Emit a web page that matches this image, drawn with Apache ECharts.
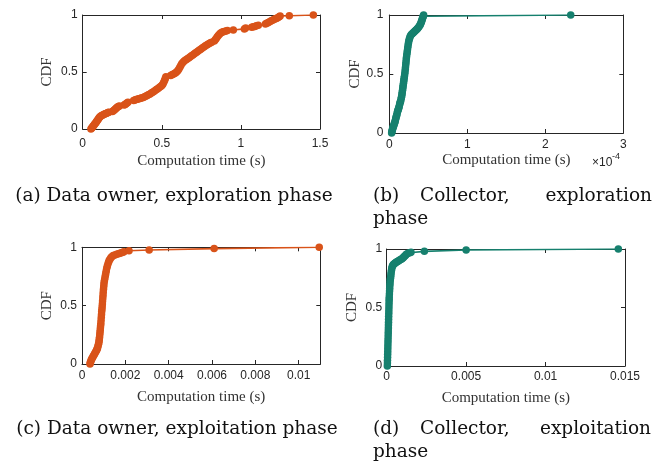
<!DOCTYPE html>
<html><head><meta charset="utf-8">
<script src="https://cdn.jsdelivr.net/npm/echarts@6/dist/echarts.min.js"></script>
<style>html,body{margin:0;padding:0;background:#fff}#c{width:654px;height:466px}</style>
</head><body><div id="c"></div>
<script>
// Panel (a): Data owner, exploration phase — time (s), CDF
var timeA = [0.052,0.056,0.06,0.064,0.068,0.072,0.076,0.08,0.084,0.088,0.092,0.096,0.10,0.104,0.108,0.113,0.118,0.124,0.13,0.136,0.142,0.148,0.155,0.16,0.165,
  0.188,0.194,0.20,0.205,0.21,0.215,0.22,0.226,0.232,
  0.262,0.268,0.274,0.28,0.286,
  0.322,0.33,0.338,0.346,0.354,0.362,0.37,0.378,0.386,0.394,0.402,0.41,0.418,0.426,0.434,0.442,0.45,0.458,0.466,0.474,0.482,0.49,0.497,0.503,0.508,0.513,0.518,0.522,0.526,
  0.556,0.564,0.572,0.58,0.588,0.595,0.602,0.608,0.614,0.62,0.626,0.633,0.64,0.648,0.656,0.664,0.672,0.68,0.688,0.696,0.704,0.712,0.72,0.728,0.736,0.744,0.752,0.76,0.768,0.776,0.784,0.792,0.8,0.808,0.815,
  0.832,0.838,0.844,0.85,0.856,0.863,0.87,0.878,0.886,0.895,0.905,0.915,0.952,1.022,1.03,1.068,1.078,1.088,1.098,1.11,
  1.155,1.163,1.171,1.179,1.187,1.195,1.203,1.211,1.219,1.227,1.235,1.242,1.248,1.306,1.458];
var cdfA = [0,0.007,0.014,0.021,0.028,0.035,0.043,0.05,0.058,0.066,0.074,0.082,0.09,0.098,0.105,0.111,0.116,0.121,0.125,0.129,0.133,0.137,0.141,0.144,0.147,
  0.153,0.16,0.167,0.174,0.18,0.186,0.192,0.197,0.202,
  0.21,0.216,0.222,0.228,0.234,
  0.25,0.254,0.258,0.262,0.265,0.268,0.271,0.274,0.278,0.284,0.29,0.296,0.302,0.308,0.315,0.322,0.33,0.338,0.346,0.354,0.362,0.37,0.378,0.386,0.398,0.412,0.428,0.444,0.458,
  0.47,0.475,0.481,0.487,0.494,0.503,0.514,0.527,0.542,0.558,0.572,0.584,0.594,0.602,0.61,0.618,0.626,0.634,0.642,0.65,0.658,0.666,0.674,0.682,0.69,0.698,0.706,0.714,0.722,0.73,0.737,0.744,0.751,0.757,0.762,
  0.772,0.782,0.794,0.806,0.818,0.83,0.84,0.847,0.852,0.856,0.86,0.864,0.868,0.878,0.885,0.892,0.896,0.9,0.905,0.91,
  0.922,0.928,0.933,0.939,0.945,0.951,0.957,0.962,0.967,0.972,0.978,0.985,0.991,0.994,1.0];

// Panel (b): Collector, exploration phase — time in units of 1e-4 s
var timeB = [0.03,0.033,0.036,0.04,0.045,0.05,0.055,0.06,0.065,0.07,0.075,0.08,0.085,0.09,0.095,0.1,0.105,0.11,0.115,0.12,0.125,0.13,0.135,0.14,0.145,0.15,0.155,0.16,0.163,0.166,0.169,0.172,0.175,0.178,0.181,0.184,0.187,0.19,
  0.194,0.198,0.202,0.205,0.208,0.211,0.214,0.217,0.22,0.224,0.228,0.232,0.236,0.24,0.245,0.25,0.256,0.263,0.27,0.28,0.29,0.3,0.31,0.32,0.33,0.34,0.35,0.36,0.37,0.38,0.39,0.398,0.405,0.41,0.415,0.42,0.425,0.43,0.435,0.44,2.326];
var cdfB = [0,0.01,0.02,0.03,0.04,0.05,0.06,0.07,0.08,0.09,0.1,0.115,0.13,0.14,0.15,0.165,0.18,0.19,0.2,0.21,0.22,0.235,0.25,0.26,0.27,0.285,0.3,0.315,0.33,0.345,0.36,0.375,0.39,0.405,0.42,0.435,0.45,0.465,
  0.48,0.5,0.52,0.54,0.56,0.58,0.6,0.62,0.64,0.66,0.68,0.7,0.72,0.74,0.76,0.78,0.795,0.81,0.822,0.832,0.84,0.846,0.852,0.858,0.864,0.87,0.877,0.884,0.892,0.9,0.91,0.92,0.93,0.94,0.95,0.96,0.97,0.98,0.99,1.0,1.0];

// Panel (c): Data owner, exploitation phase — time (s)
var timeC = [0.00037,0.00038,0.0004,0.00042,0.00044,0.00047,0.0005,0.00053,0.00056,0.00059,0.00062,0.00065,0.00068,0.0007,0.00072,0.00074,0.00076,0.00078,0.00079,0.0008,0.00081,0.00082,0.00083,0.00084,0.00085,0.00086,0.00087,0.00088,0.00089,
  0.0009,0.00091,0.00092,0.00093,0.00094,0.00095,0.00096,0.00097,0.00098,0.00099,0.001,0.00101,0.00102,0.00104,0.00106,0.00108,0.0011,0.00112,0.00114,0.00117,0.0012,0.00123,0.00126,0.0013,0.00134,0.00139,0.00144,
  0.00152,0.0016,0.00168,0.00175,0.00182,0.00188,0.00194,0.00217,0.0031,0.0061,0.01095];
var cdfC = [0,0.01,0.02,0.03,0.04,0.05,0.06,0.07,0.08,0.09,0.1,0.11,0.12,0.13,0.14,0.155,0.17,0.185,0.2,0.215,0.23,0.25,0.27,0.29,0.31,0.33,0.35,0.375,0.4,
  0.425,0.45,0.47,0.49,0.515,0.54,0.565,0.59,0.615,0.64,0.66,0.68,0.7,0.72,0.74,0.76,0.78,0.8,0.82,0.84,0.86,0.875,0.89,0.9,0.912,0.922,0.93,
  0.935,0.94,0.944,0.949,0.953,0.957,0.962,0.971,0.977,0.989,1.0];

// Panel (d): Collector, exploitation phase — time (s)
var timeD = [0.00004,0.000045,0.00005,0.000055,0.00006,0.000065,0.00007,0.000075,0.00008,0.000085,0.00009,0.000095,0.0001,0.000105,0.00011,0.000115,0.00012,0.000125,0.00013,0.000135,0.00014,0.000145,0.00015,0.000155,0.00016,
  0.00017,0.00018,0.00019,0.0002,0.00021,0.00022,0.000235,0.00025,0.000265,0.00028,0.0003,0.00032,0.00035,0.00038,0.00042,0.00046,0.0005,0.00055,0.0006,0.00065,0.0007,0.00076,0.00082,0.00088,0.00094,0.001,0.00105,
  0.0011,0.00116,0.00121,0.00126,0.00135,0.00145,0.00153,0.00237,0.005,0.01458];
var cdfD = [0,0.025,0.05,0.075,0.1,0.125,0.15,0.175,0.2,0.225,0.25,0.275,0.3,0.325,0.35,0.375,0.4,0.425,0.45,0.475,0.5,0.525,0.55,0.57,0.59,
  0.615,0.64,0.665,0.69,0.71,0.73,0.745,0.76,0.78,0.8,0.818,0.835,0.85,0.86,0.867,0.872,0.877,0.883,0.887,0.891,0.895,0.9,0.905,0.91,0.915,0.92,0.927,
  0.935,0.942,0.95,0.957,0.963,0.968,0.972,0.98,0.991,1.0];

var yTicks = [0, 0.5, 1];
var captions = {
  a: '(a) Data owner, exploration phase',
  c: '(c) Data owner, exploitation phase',
  b: ['(b)', 'Collector,', 'exploration', 'phase'],
  d: ['(d)', 'Collector,', 'exploitation', 'phase']
};
var xLabel = 'Computation time (s)', yLabel = 'CDF';

var ORANGE = '#D95319', TEAL = '#16806E', AX = '#262626';
var panels = [
  {t: timeA, c: cdfA, color: ORANGE, grid: {left: 82.7, top: 15, width: 237.3, height: 114}, xmin: 0, xmax: 1.5, xint: 0.5, xm: 8.5, ym: 5, xgap: 25, ygap: 28},
  {t: timeB, c: cdfB, color: TEAL, grid: {left: 389.3, top: 15, width: 234, height: 118}, xmin: 0, xmax: 3, xint: 1, xm: 6, ym: 6, xgap: 19.5, ygap: 26},
  {t: timeC, c: cdfC, color: ORANGE, grid: {left: 82, top: 247.3, width: 238.3, height: 116.7}, xmin: 0, xmax: 0.011, xint: 0.002, xm: 6, ym: 5, xgap: 25.5, ygap: 27.5, hideMax: true},
  {t: timeD, c: cdfD, color: TEAL, grid: {left: 386.7, top: 249, width: 238.3, height: 117}, xmin: 0, xmax: 0.015, xint: 0.005, xm: 5, ym: 4.5, xgap: 25, ygap: 27}
];

var grids = [], xAxes = [], yAxes = [], series = [];
var tickFont = {fontFamily: 'Liberation Sans', fontSize: 12, color: AX};
var nameFont = {fontFamily: 'Liberation Serif', fontSize: 15, color: '#333'};
panels.forEach(function (p, i) {
  grids.push(p.grid);
  var common = {type: 'value', gridIndex: i, min: p.xmin, max: p.xmax, interval: p.xint,
    splitLine: {show: false}, axisLine: {show: true, onZero: false, lineStyle: {color: AX, width: 1}},
    axisTick: {show: true, inside: true, length: 4, lineStyle: {color: AX}}};
  xAxes.push(Object.assign({}, common, {position: 'bottom', name: xLabel, nameLocation: 'middle', nameGap: p.xgap,
    nameTextStyle: nameFont,
    axisLabel: Object.assign({margin: p.xm, showMaxLabel: p.hideMax ? false : null}, tickFont)}));
  xAxes.push(Object.assign({}, common, {position: 'top', axisLabel: {show: false}}));
  var ycommon = {type: 'value', gridIndex: i, min: 0, max: 1, interval: 0.5,
    splitLine: {show: false}, axisLine: {show: true, onZero: false, lineStyle: {color: AX, width: 1}},
    axisTick: {show: true, inside: true, length: 4, lineStyle: {color: AX}}};
  yAxes.push(Object.assign({}, ycommon, {position: 'left', name: yLabel, nameLocation: 'middle', nameGap: p.ygap,
    nameTextStyle: nameFont, axisLabel: Object.assign({margin: p.ym}, tickFont)}));
  yAxes.push(Object.assign({}, ycommon, {position: 'right', axisLabel: {show: false}}));
  series.push({type: 'line', xAxisIndex: 2 * i, yAxisIndex: 2 * i,
    data: p.t.map(function (v, k) { return [v, p.c[k]]; }),
    symbol: 'circle', symbolSize: 7.5, showAllSymbol: true,
    lineStyle: {color: p.color, width: 1.6}, itemStyle: {color: p.color}});
});

var capFont = {fontFamily: 'DejaVu Serif', fontSize: 18.5, fill: '#111'};
function cap(text, x, y, align) {
  return {type: 'text', x: x, y: y, style: Object.assign({text: text, align: align, verticalAlign: 'middle'}, capFont)};
}
var graphics = [
  cap(captions.a, 174, 196.5, 'center'),
  cap(captions.b[0], 373, 196.5, 'left'), cap(captions.b[1], 420, 196.5, 'left'), cap(captions.b[2], 652, 196.5, 'right'), cap(captions.b[3], 373, 219, 'left'),
  cap(captions.c, 177, 429.5, 'center'),
  cap(captions.d[0], 373, 429.5, 'left'), cap(captions.d[1], 420, 429.5, 'left'), cap(captions.d[2], 651, 429.5, 'right'), cap(captions.d[3], 373, 452.5, 'left'),
  {type: 'text', x: 592, y: 163, style: {text: '\u00d710', fontFamily: 'Liberation Sans', fontSize: 12, fill: AX, verticalAlign: 'middle'}},
  {type: 'text', x: 612, y: 157, style: {text: '-4', fontFamily: 'Liberation Sans', fontSize: 9, fill: AX, verticalAlign: 'middle'}}
];

var chart = echarts.init(document.getElementById('c'), null, {renderer: 'canvas'});
chart.setOption({animation: false, backgroundColor: '#fff', grid: grids, xAxis: xAxes, yAxis: yAxes, series: series, graphic: graphics});
</script></body></html>
